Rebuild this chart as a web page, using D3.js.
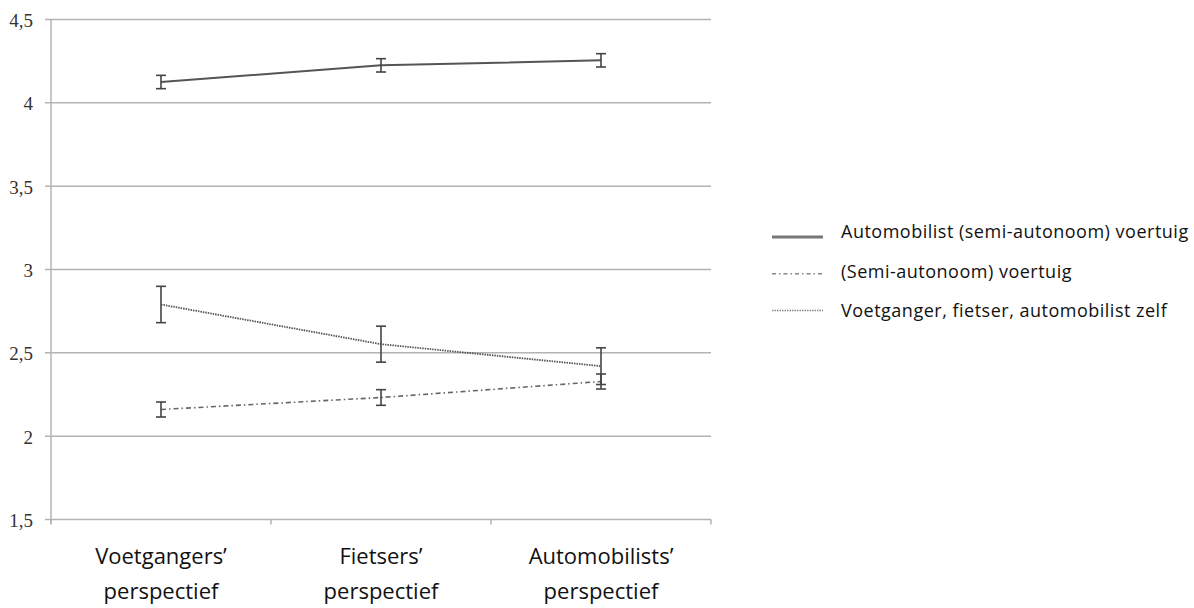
<!DOCTYPE html>
<html>
<head>
<meta charset="utf-8">
<script src="https://cdn.jsdelivr.net/npm/d3@7"></script>
<style>
  body { margin: 0; background: #fff; }
</style>
</head>
<body>
<div id="chart"></div>
<script>
// perspectives on the x axis
const categories = [["Voetgangers’", "perspectief"], ["Fietsers’", "perspectief"], ["Automobilists’", "perspectief"]];
const seriesNames = ["Automobilist (semi-autonoom) voertuig", "(Semi-autonoom) voertuig", "Voetganger, fietser, automobilist zelf"];
const automobilistMeans = [4.125, 4.225, 4.255];
const automobilistErr = [0.04, 0.04, 0.04];
const voertuigMeans = [2.16, 2.232, 2.328];
const voertuigErr = [0.045, 0.047, 0.045];
const zelfMeans = [2.79, 2.552, 2.42];
const zelfErr = [0.109, 0.108, 0.11];
const yTicks = [1.5, 2, 2.5, 3, 3.5, 4, 4.5];

const width = 1194;
const height = 608;

const svg = d3.select("#chart")
    .append("svg")
    .attr("width", width)
    .attr("height", height);

const x = d3.scaleBand()
    .domain(d3.range(categories.length))
    .range([51, 711]);

const y = d3.scaleLinear()
    .domain([1.5, 4.5])
    .range([519.5, 19.5]);

// gridlines
svg.append("g")
    .selectAll("line")
    .data(yTicks)
    .enter()
    .append("line")
    .attr("x1", 45)
    .attr("x2", 711)
    .attr("y1", d => y(d))
    .attr("y2", d => y(d))
    .attr("stroke", "#b3b3b3")
    .attr("stroke-width", 1.5);

// y axis line
svg.append("line")
    .attr("x1", 51).attr("x2", 51)
    .attr("y1", y(4.5)).attr("y2", y(1.5) + 4)
    .attr("stroke", "#b3b3b3")
    .attr("stroke-width", 1.5);

// category ticks
svg.append("g")
    .selectAll("line")
    .data(d3.range(categories.length + 1))
    .enter()
    .append("line")
    .attr("x1", d => d < categories.length ? x(d) : x.range()[1])
    .attr("x2", d => d < categories.length ? x(d) : x.range()[1])
    .attr("y1", y(1.5))
    .attr("y2", y(1.5) + 5)
    .attr("stroke", "#b3b3b3")
    .attr("stroke-width", 1.5);

svg.append("g")
    .selectAll("text")
    .data(yTicks)
    .enter()
    .append("text")
    .attr("x", 33)
    .attr("y", d => y(d) + 1)
    .attr("dy", "0.35em")
    .attr("text-anchor", "end")
    .style("font-family", "'Liberation Serif', 'DejaVu Serif', serif")
    .style("font-size", "19px")
    .style("fill", "#333")
    .text(d => d3.format(".1~f")(d).replace(".", ","));

const xl = svg.append("g")
    .selectAll("text")
    .data(categories)
    .enter()
    .append("text")
    .attr("text-anchor", "middle")
    .style("font-family", "'Open Sans', sans-serif")
    .style("font-size", "22px")
    .style("fill", "#111");

xl.append("tspan")
    .attr("x", (d, i) => x(i) + x.bandwidth() / 2)
    .attr("y", 564)
    .text(d => d[0]);
xl.append("tspan")
    .attr("x", (d, i) => x(i) + x.bandwidth() / 2)
    .attr("y", 599)
    .text(d => d[1]);

const series = [
    { name: seriesNames[0], means: automobilistMeans, err: automobilistErr, dash: null, width: 2, color: "#555" },
    { name: seriesNames[1], means: voertuigMeans, err: voertuigErr, dash: "5,3,1.5,3", width: 1.6, color: "#666" },
    { name: seriesNames[2], means: zelfMeans, err: zelfErr, dash: "1.5,1", width: 1.8, color: "#555" }
];

const line = d3.line()
    .x((d, i) => x(i) + x.bandwidth() / 2)
    .y(d => y(d));

series.forEach(s => {
    svg.append("path")
        .datum(s.means)
        .attr("d", line)
        .attr("fill", "none")
        .attr("stroke", s.color)
        .attr("stroke-width", s.width)
        .attr("stroke-dasharray", s.dash);

    const bars = svg.append("g")
        .selectAll("g")
        .data(s.means.map((m, i) => ({ m, e: s.err[i], i })))
        .enter()
        .append("g")
        .attr("stroke", "#444")
        .attr("stroke-width", 1.6);

    bars.append("line")
        .attr("x1", d => x(d.i) + x.bandwidth() / 2)
        .attr("x2", d => x(d.i) + x.bandwidth() / 2)
        .attr("y1", d => y(d.m + d.e))
        .attr("y2", d => y(d.m - d.e));
    [1, -1].forEach(sg => {
        bars.append("line")
            .attr("x1", d => x(d.i) + x.bandwidth() / 2 - 5)
            .attr("x2", d => x(d.i) + x.bandwidth() / 2 + 5)
            .attr("y1", d => y(d.m + sg * d.e))
            .attr("y2", d => y(d.m + sg * d.e));
    });
});

// legend
const legend = svg.selectAll(".legend")
    .data(series)
    .enter()
    .append("g")
    .attr("class", "legend")
    .attr("transform", (d, i) => `translate(772, ${237 + i * 36.7})`);

legend.append("line")
    .attr("x1", 0)
    .attr("x2", 51)
    .attr("stroke", (d, i) => i === 0 ? "#777" : "#888")
    .attr("stroke-width", (d, i) => i === 0 ? 3 : 1.5)
    .attr("stroke-dasharray", (d, i) => i === 0 ? null : (i === 1 ? "4,3,1.5,3" : "1.5,1"));

legend.append("text")
    .attr("x", 69)
    .attr("y", (d, i) => 1 + i * 2.8)
    .style("font-family", "'Open Sans', sans-serif")
    .style("font-size", "18px")
    .style("letter-spacing", "0.5px")
    .style("fill", "#111")
    .text(d => d.name);
</script>
</body>
</html>
